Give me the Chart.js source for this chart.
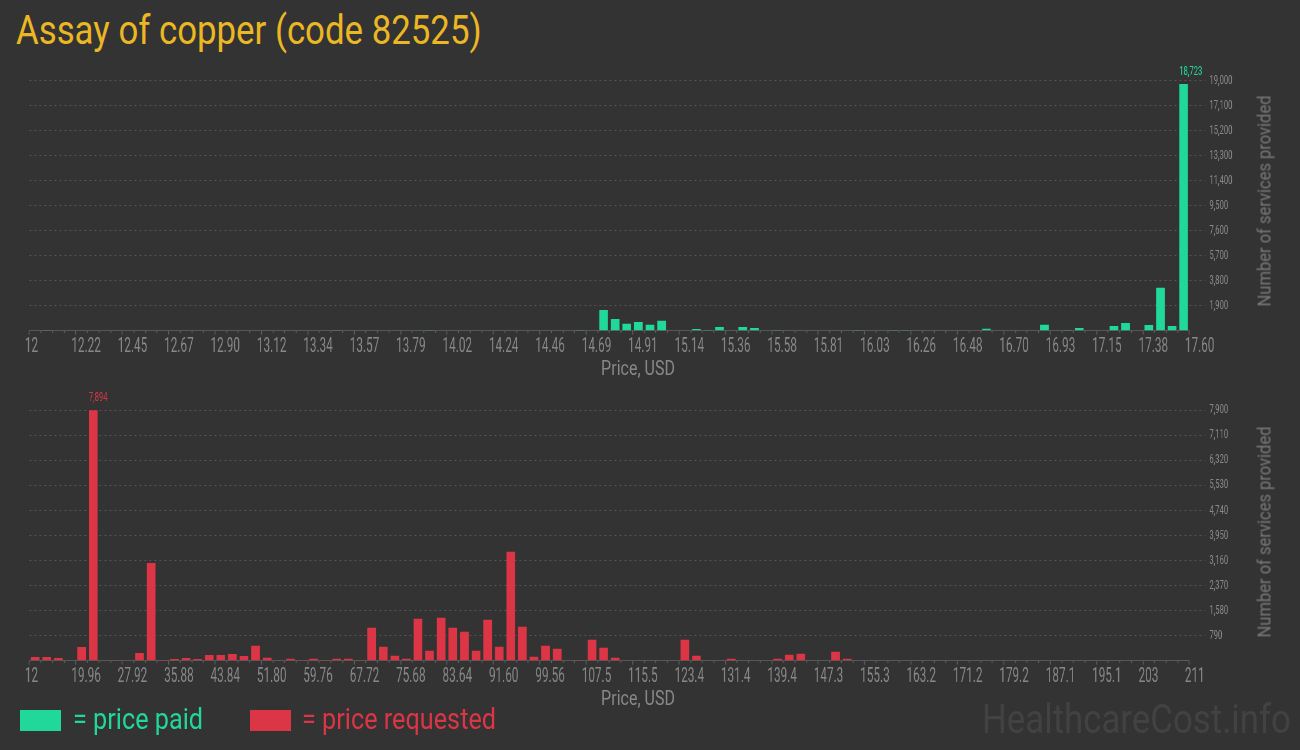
<!DOCTYPE html>
<html>
<head>
<meta charset="utf-8">
<title>Assay of copper (code 82525)</title>
<script src="https://cdn.jsdelivr.net/npm/chart.js@4.4.1/dist/chart.umd.min.js"></script>
<style>
  html, body { margin:0; padding:0; background:#333; }
  body { width:1300px; height:750px; position:relative; overflow:hidden; font-family:Roboto, sans-serif; }
  .txt  { position:absolute; white-space:nowrap; line-height:1; transform-origin:0 0; transform:scaleX(.87); }
  .ctr  { position:absolute; white-space:nowrap; line-height:1; transform-origin:50% 0; transform:translateX(-50%) scaleX(.8); }
  .vt   { position:absolute; white-space:nowrap; line-height:1; transform-origin:50% 50%;
          transform:translate(-50%,-50%) rotate(-90deg) scaleX(.87); font-size:19px; color:#777; }
  .sw   { position:absolute; top:710px; width:41px; height:21px; }
  /* canvas desenhado 1.7x mais largo e comprimido -> texto condensado */
  .wrap { position:absolute; left:0; width:2210px; height:320px; transform:scaleX(0.588235); transform-origin:0 0; }
</style>
</head>
<body>
<div class="txt" id="title" style="left:16px;top:11px;font-size:40px;color:#ebb723;">Assay of copper (code 82525)</div>

<div class="wrap" style="top:60px;"><canvas id="chartPaid"></canvas></div>
<div class="ctr" style="left:637.5px;top:358px;font-size:20px;color:#888;">Price, USD</div>
<div class="vt" style="left:1264px;top:201px;">Number of services provided</div>

<div class="wrap" style="top:385px;"><canvas id="chartRequested"></canvas></div>
<div class="ctr" style="left:637.5px;top:688px;font-size:20px;color:#888;">Price, USD</div>
<div class="vt" style="left:1263.5px;top:531.5px;">Number of services provided</div>

<div class="sw" style="left:20px;background:#21d89b;"></div>
<div class="txt" style="left:72.7px;top:705px;font-size:29px;color:#21d89b;">= price paid</div>
<div class="sw" style="left:250px;background:#dc3545;"></div>
<div class="txt" style="left:302px;top:705px;font-size:29px;color:#dc3545;">= price requested</div>

<div class="txt" style="left:982px;top:700px;font-size:40px;color:#424242;">HealthcareCost.info</div>

<script>
// ── Dados ────────────────────────────────────────────────────────────────
const PAID_MIN = 12, PAID_MAX = 17.60;
const PAID_TICKS = ['12','12.22','12.45','12.67','12.90','13.12','13.34','13.57','13.79','14.02','14.24','14.46','14.69',
                    '14.91','15.14','15.36','15.58','15.81','16.03','16.26','16.48','16.70','16.93','17.15','17.38','17.60'];
const PAID_COUNTS = [
  0, 60, 0, 0, 0, 0, 0, 0, 0, 0,
  0, 0, 0, 0, 0, 0, 0, 0, 0, 0,
  0, 0, 0, 0, 0, 0, 50, 0, 0, 0,
  0, 0, 0, 0, 60, 0, 0, 0, 0, 0,
  0, 0, 0, 0, 0, 0, 0, 60, 0, 1570,
  890, 530, 660, 460, 760, 0, 0, 130, 50, 280,
  0, 280, 200, 0, 50, 0, 0, 0, 0, 0,
  0, 50, 0, 0, 50, 50, 0, 0, 0, 0,
  0, 0, 150, 0, 0, 0, 0, 450, 0, 60,
  200, 0, 0, 350, 580, 0, 430, 3250, 360, 18723,
];
const PAID_YMAX = 19000, PAID_YSTEP = 1900;

const REQ_MIN = 12, REQ_MAX = 211;
const REQ_TICKS = ['12','19.96','27.92','35.88','43.84','51.80','59.76','67.72','75.68','83.64','91.60','99.56','107.5',
                   '115.5','123.4','131.4','139.4','147.3','155.3','163.2','171.2','179.2','187.1','195.1','203','211'];
const REQ_COUNTS = [
  120, 120, 85, 0, 430, 7894, 0, 25, 0, 240,
  3080, 25, 55, 85, 55, 180, 180, 210, 150, 470,
  95, 25, 60, 25, 60, 25, 60, 60, 25, 1040,
  440, 155, 60, 1320, 315, 1350, 1040, 910, 315, 1290,
  440, 3430, 1070, 125, 470, 380, 0, 25, 660, 410,
  95, 0, 0, 0, 0, 0, 660, 155, 0, 0,
  60, 0, 0, 0, 60, 190, 220, 0, 0, 280,
  60, 0, 0, 0, 0, 0, 0, 0, 0, 0,
  0, 0, 0, 0, 0, 0, 0, 0, 0, 0,
  0, 0, 0, 0, 0, 0, 0, 0, 0, 25,
];
const REQ_YMAX = 7900, REQ_YSTEP = 790;

const GREEN = '#21d89b', RED = '#dc3545';
const K = 1.7;            // fator horizontal do canvas
const GRID = '#555', TICK_TXT = '#888';

Chart.defaults.font.family = 'Roboto';

// rótulo do valor máximo, acima da barra
const peakLabel = {
  id: 'peakLabel',
  afterDatasetsDraw(chart) {
    const ds = chart.data.datasets[0];
    const vals = ds.data.map(p => p.y);
    const i = vals.indexOf(Math.max(...vals));
    const bar = chart.getDatasetMeta(0).data[i];
    const ctx = chart.ctx;
    ctx.save();
    ctx.font = '13px Roboto';
    ctx.fillStyle = ds.backgroundColor;
    ctx.textAlign = 'left';
    ctx.textBaseline = 'alphabetic';
    ctx.fillText(vals[i].toLocaleString('en-US'), bar.x - bar.width / 2, bar.y - 9);
    ctx.restore();
  }
};

function histograma(id, counts, cor, xMin, xMax, labels, yMax, yStep, padTop, chartH) {
  const n = counts.length;
  const w = (xMax - xMin) / n;
  const per = n / (labels.length - 1);      // bins entre rótulos
  const edges = [];
  for (let i = 0; i <= n; i++) edges.push({ value: xMin + i * w });

  return new Chart(document.getElementById(id), {
    type: 'bar',
    data: {
      datasets: [{
        data: counts.map((v, i) => ({ x: xMin + (i + 0.5) * w, y: v })),
        backgroundColor: cor,
        borderWidth: 0,
        barPercentage: 0.75,
        categoryPercentage: 1,
      }],
    },
    options: {
      responsive: true,
      maintainAspectRatio: false,
      animation: false,
      layout: { padding: { left: 29.4 * K, top: padTop, right: 0, bottom: 0 } },
      plugins: { legend: { display: false }, tooltip: { enabled: false } },
      scales: {
        x: {
          type: 'linear', position: 'bottom', min: xMin, max: xMax, offset: false,
          afterBuildTicks: s => { s.ticks = edges.map(e => ({ ...e })); },
          afterFit: s => { s.height = 320 - padTop - chartH; },
          border: { display: true, color: '#575757', width: 1 },
          grid: {
            display: true, drawOnChartArea: false, drawTicks: true, offset: false,
            tickLength: 4, tickWidth: K, tickColor: '#5e5e5e',
            tickBorderDash: c => (c.index % per === 0 ? [] : [2, 20]),
          },
          ticks: {
            autoSkip: false, maxRotation: 0, minRotation: 0,
            align: 'start', labelOffset: -4.5 * K, padding: 0,
            color: TICK_TXT, font: { size: 20 },
            callback: (v, i) => (i % per === 0 ? labels[i / per] : ''),
          },
        },
        y: {
          type: 'linear', position: 'right', min: 0, max: yMax,
          afterFit: s => { s.width = (1300 - 1189.4) * K; },
          border: { display: false, dash: [2 * K, 3 * K] },
          grid: {
            color: c => (c.tick.value === 0 ? 'transparent' : GRID),
            tickColor: c => (c.tick.value === 0 ? 'transparent' : GRID),
            tickBorderDash: [2 * K, 3 * K],
            tickLength: 16 * K, lineWidth: 1,
          },
          ticks: {
            stepSize: yStep, padding: 4 * K, color: TICK_TXT, font: { size: 13 },
            callback: v => (v === 0 ? '' : v.toLocaleString('en-US')),
          },
        },
      },
    },
    plugins: [peakLabel],
  });
}

histograma('chartPaid', PAID_COUNTS, GREEN, PAID_MIN, PAID_MAX, PAID_TICKS, PAID_YMAX, PAID_YSTEP, 20.3, 250.4);
histograma('chartRequested', REQ_COUNTS, RED, REQ_MIN, REQ_MAX, REQ_TICKS, REQ_YMAX, REQ_YSTEP, 25, 250.7);
</script>
</body>
</html>
